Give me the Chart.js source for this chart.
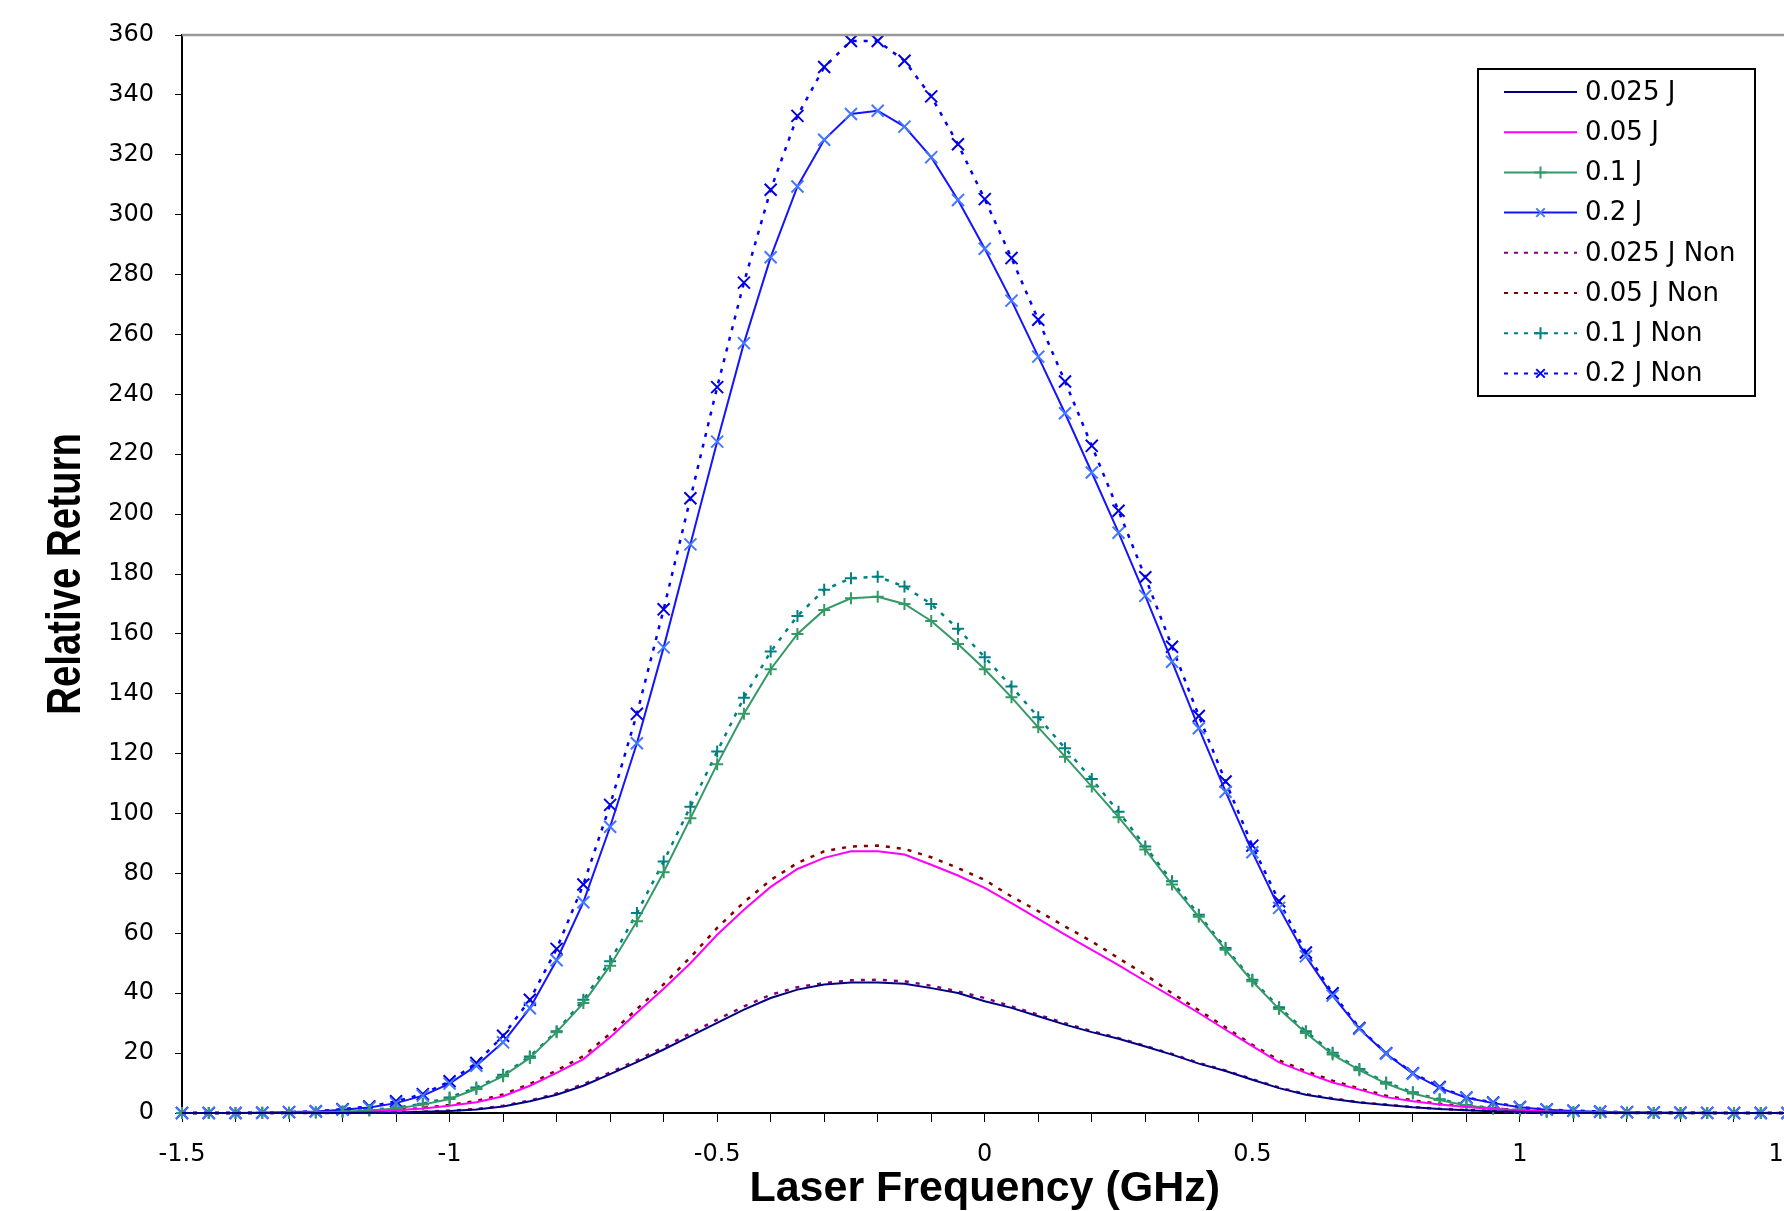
<!DOCTYPE html>
<html>
<head>
<meta charset="utf-8">
<title>Relative Return vs Laser Frequency</title>
<script src="https://cdn.jsdelivr.net/npm/chart.js@4.4.1/dist/chart.umd.min.js"></script>
<style>
  html, body { margin: 0; padding: 0; background: #fff; overflow: hidden; }
</style>
</head>
<body>
<canvas id="myLineChart" width="1798" height="1211"></canvas>
<script>
// Frecuencia del láser (GHz), paso de 0.05
const freq = [-1.5, -1.45, -1.4, -1.35, -1.3, -1.25, -1.2, -1.15, -1.1, -1.05,
    -1.0, -0.95, -0.9, -0.85, -0.8, -0.75, -0.7, -0.65, -0.6, -0.55,
    -0.5, -0.45, -0.4, -0.35, -0.3, -0.25, -0.2, -0.15, -0.1, -0.05,
    0, 0.05, 0.1, 0.15, 0.2, 0.25, 0.3, 0.35, 0.4, 0.45,
    0.5, 0.55, 0.6, 0.65, 0.7, 0.75, 0.8, 0.85, 0.9, 0.95,
    1.0, 1.05, 1.1, 1.15, 1.2, 1.25, 1.3, 1.35, 1.4, 1.45, 1.5];

// Retorno relativo
const e025 = [0, 0, 0, 0, 0, 0, 0, 0.1, 0.2, 0.4,
    0.7, 1.2, 2.2, 3.9, 6.1, 9.1, 13, 17, 21.2, 25.7,
    30.1, 34.5, 38.4, 41.2, 42.9, 43.6, 43.6, 43.2, 41.7, 40.1,
    37.3, 35.1, 32.3, 29.5, 27, 24.8, 22.2, 19.5, 16.5, 14,
    11.1, 8.3, 6.1, 4.7, 3.5, 2.7, 1.9, 1.3, 0.9, 0.6,
    0.4, 0.2, 0.1, 0, 0, 0, 0, 0, 0, 0, 0];
const e05 = [0, 0, 0, 0, 0.05, 0.1, 0.2, 0.4, 0.9, 1.5,
    2.4, 3.6, 5.6, 9.1, 13.4, 18, 25.3, 33.5, 41.5, 50,
    59.5, 67.9, 75.5, 81.5, 85.2, 87.4, 87.4, 86.3, 82.9, 79.3,
    75.2, 70.1, 64.8, 59.6, 54.5, 49.4, 44, 38.8, 33.4, 27.8,
    22.3, 16.9, 13.4, 10.2, 7.8, 5.3, 3.9, 2.8, 2, 1.3,
    0.9, 0.5, 0.3, 0.15, 0.1, 0, 0, 0, 0, 0, 0];
const e1 = [0, 0, 0, 0.05, 0.1, 0.2, 0.4, 0.8, 1.5, 2.8,
    4.7, 8, 12.3, 18.4, 27, 36.7, 49.2, 64, 80.4, 98.4,
    116.5, 133.3, 148.2, 160, 168, 171.9, 172.4, 170, 164.3, 156.6,
    148.2, 138.8, 128.8, 119, 109, 98.8, 88, 76.3, 65.5, 54.5,
    44, 34.7, 26.7, 19.5, 14.3, 9.8, 6.5, 4.3, 2.5, 1.4,
    0.8, 0.4, 0.2, 0.1, 0.05, 0, 0, 0, 0, 0, 0];
const e2 = [0, 0, 0, 0.1, 0.3, 0.5, 1.1, 1.8, 3.3, 5.8,
    9.8, 15.8, 23.6, 35, 51, 70.4, 95.6, 123.5, 155.5, 189.9,
    224.2, 257.1, 285.8, 309.4, 325, 333.6, 334.7, 329.4, 319.2, 304.9,
    288.6, 271.3, 252.6, 233.7, 213.9, 193.8, 172.7, 150.7, 128.5, 107.3,
    87.1, 68.5, 52.3, 39.2, 28.1, 19.8, 13.1, 8.4, 5.1, 3.3,
    1.9, 1.1, 0.7, 0.4, 0.25, 0.15, 0.1, 0.05, 0, 0, 0];
const e025Non = [0, 0, 0, 0, 0, 0, 0, 0.1, 0.2, 0.4,
    0.8, 1.3, 2.4, 4.2, 6.5, 9.6, 13.5, 17.6, 22, 26.6,
    31.2, 35.6, 39.5, 42, 43.4, 44.3, 44.5, 44, 42.5, 40.6,
    38.4, 35.6, 32.8, 30, 27.3, 25, 22.4, 19.7, 16.7, 14.2,
    11.3, 8.5, 6.3, 4.9, 3.6, 2.8, 2, 1.4, 1, 0.7,
    0.4, 0.2, 0.1, 0, 0, 0, 0, 0, 0, 0, 0];
const e05Non = [0, 0, 0, 0, 0.05, 0.1, 0.25, 0.5, 1, 1.7,
    2.7, 4, 6.2, 9.7, 14.2, 19, 26.5, 34.7, 43, 52,
    61.8, 70.4, 77.8, 83.5, 87.4, 89, 89.3, 88.2, 85.4, 81.8,
    77.8, 72.3, 67.4, 62.3, 57.3, 51.7, 46.2, 40, 34.3, 28.6,
    22.8, 17.6, 14, 10.8, 8.2, 5.8, 4.2, 3.1, 2.2, 1.5,
    1, 0.6, 0.3, 0.2, 0.1, 0, 0, 0, 0, 0, 0];
const e1Non = [0, 0, 0, 0.05, 0.1, 0.25, 0.5, 1, 1.8, 3.1,
    5.2, 8.5, 12.8, 18.9, 27.3, 37.8, 50.7, 66.8, 84, 102.3,
    120.7, 138.7, 154.1, 166, 174.7, 178.6, 179.1, 175.8, 170, 161.7,
    152.2, 142.4, 132.2, 121.8, 111.5, 100.6, 89, 77.4, 66.2, 55.1,
    44.5, 35.3, 27.3, 20.1, 14.7, 10.2, 6.9, 4.6, 2.7, 1.6,
    0.9, 0.5, 0.25, 0.1, 0.05, 0, 0, 0, 0, 0, 0];
const e2Non = [0, 0, 0, 0.1, 0.3, 0.6, 1.3, 2.2, 3.9, 6.3,
    10.6, 16.7, 25.8, 37.8, 54.8, 76.3, 102.9, 133.3, 168.2, 205.3,
    242.4, 277.3, 308.3, 333, 349.3, 358, 358, 351.4, 339.5, 323.5,
    305.2, 285.5, 264.9, 244.3, 222.8, 201.1, 178.9, 155.7, 132.6, 110.7,
    89.3, 70.7, 53.6, 40, 28.4, 20, 13.3, 8.7, 5.2, 3.5,
    2, 1.2, 0.8, 0.5, 0.3, 0.2, 0.1, 0.05, 0, 0, 0];

const seriesNames = ['0.025 J', '0.05 J', '0.1 J', '0.2 J',
    '0.025 J Non', '0.05 J Non', '0.1 J Non', '0.2 J Non'];

const yTicks = { min: 0, max: 360, step: 20 };
const xTicks = { min: -1.5, max: 1.5, step: 0.1, labelEvery: 0.5 };

const FONT = '"Liberation Sans", Arial, sans-serif';
const TICK_FONT = '"DejaVu Sans", sans-serif';

function pts(vals) {
    return freq.map((f, i) => ({ x: f, y: vals[i] }));
}

// Marcadores para la leyenda (+ y x)
function drawMarker(ctx, style, x, y, r, color) {
    ctx.save();
    ctx.strokeStyle = color;
    ctx.lineWidth = 2;
    ctx.beginPath();
    if (style === 'cross') {
        ctx.moveTo(x - r, y); ctx.lineTo(x + r, y);
        ctx.moveTo(x, y - r); ctx.lineTo(x, y + r);
    } else {
        const d = r * Math.SQRT1_2;
        ctx.moveTo(x - d, y - d); ctx.lineTo(x + d, y + d);
        ctx.moveTo(x - d, y + d); ctx.lineTo(x + d, y - d);
    }
    ctx.stroke();
    ctx.restore();
}

const boxLegend = {
    id: 'boxLegend',
    afterDraw(chart, args, o) {
        const ctx = chart.ctx;
        const ca = chart.chartArea;
        ctx.save();
        // borde superior gris del área
        ctx.strokeStyle = '#999999';
        ctx.lineWidth = 2.5;
        ctx.beginPath();
        ctx.moveTo(ca.left, ca.top);
        ctx.lineTo(ca.right, ca.top);
        ctx.stroke();

        ctx.fillStyle = '#fff';
        ctx.fillRect(o.left, o.top, o.width, o.height);
        ctx.strokeStyle = '#000';
        ctx.lineWidth = 2;
        ctx.strokeRect(o.left, o.top, o.width, o.height);
        chart.data.datasets.forEach((ds, i) => {
            const y = o.top + o.firstRow + i * o.rowGap;
            const x0 = o.left + o.lineStart;
            const x1 = x0 + o.lineLen;
            ctx.strokeStyle = ds.borderColor;
            ctx.lineWidth = 2;
            ctx.setLineDash(ds.borderDash ? [4, 6] : []);
            ctx.beginPath();
            ctx.moveTo(x0, y);
            ctx.lineTo(x1, y);
            ctx.stroke();
            ctx.setLineDash([]);
            if (ds.pointRadius > 0) {
                drawMarker(ctx, ds.pointStyle, (x0 + x1) / 2, y, o.markerSize, ds.pointBorderColor);
            }
            ctx.fillStyle = '#000';
            ctx.font = o.size + 'px ' + TICK_FONT;
            ctx.textAlign = 'left';
            ctx.textBaseline = 'middle';
            ctx.fillText(ds.label, x1 + o.textGap, y + 1);
        });
        ctx.restore();
    }
};

// Título del eje Y, algo comprimido como en el original
const yTitle = {
    id: 'yTitle',
    afterDraw(chart, args, o) {
        const ctx = chart.ctx;
        const cy = (chart.chartArea.top + chart.chartArea.bottom) / 2;
        ctx.save();
        ctx.translate(o.x, cy);
        ctx.rotate(-Math.PI / 2);
        ctx.scale(o.squeeze, 1);
        ctx.font = 'bold ' + o.size + 'px ' + FONT;
        ctx.fillStyle = '#000';
        ctx.textAlign = 'center';
        ctx.textBaseline = 'alphabetic';
        ctx.fillText(o.text, 0, 0);
        ctx.restore();
    }
};

const solid = { borderWidth: 2, pointRadius: 0, tension: 0, clip: false };
const dotted = { borderWidth: 2.5, borderDash: [4, 7], pointRadius: 0, tension: 0, clip: false };

const datasets = [
    { ...solid, label: seriesNames[0], data: pts(e025), borderColor: '#000080' },
    { ...solid, label: seriesNames[1], data: pts(e05), borderColor: '#FF00FF' },
    { ...solid, label: seriesNames[2], data: pts(e1), borderColor: '#339966',
        pointStyle: 'cross', pointRadius: 6, pointBorderWidth: 2, pointBorderColor: '#339966' },
    { ...solid, label: seriesNames[3], data: pts(e2), borderColor: '#1414FF',
        pointStyle: 'crossRot', pointRadius: 8.5, pointBorderWidth: 2, pointBorderColor: '#4477FF' },
    { ...dotted, label: seriesNames[4], data: pts(e025Non), borderColor: '#800080' },
    { ...dotted, label: seriesNames[5], data: pts(e05Non), borderColor: '#800000' },
    { ...dotted, label: seriesNames[6], data: pts(e1Non), borderColor: '#008080',
        pointStyle: 'cross', pointRadius: 6, pointBorderWidth: 2, pointBorderColor: '#008080' },
    { ...dotted, label: seriesNames[7], data: pts(e2Non), borderColor: '#0000FF',
        pointStyle: 'crossRot', pointRadius: 8.5, pointBorderWidth: 2, pointBorderColor: '#0000E6' }
];

const config = {
    type: 'line',
    data: { datasets: datasets },
    plugins: [boxLegend, yTitle],
    options: {
        responsive: false,
        animation: false,
        devicePixelRatio: 1,
        layout: { padding: { top: 35, left: 0, right: 0, bottom: 0 } },
        plugins: {
            legend: { display: false },
            tooltip: { enabled: false },
            boxLegend: { left: 1478, top: 69, width: 277, height: 327, firstRow: 23, rowGap: 40.2,
                lineStart: 26, lineLen: 73, textGap: 8, size: 26, markerSize: 6 },
            yTitle: { text: 'Relative Return', x: 80, size: 48, squeeze: 0.8 }
        },
        scales: {
            x: {
                type: 'linear',
                min: xTicks.min,
                max: xTicks.max,
                border: { color: '#000', width: 2 },
                grid: { drawOnChartArea: false, drawTicks: true, tickLength: 9, color: '#000', lineWidth: 1 },
                ticks: {
                    stepSize: xTicks.step,
                    autoSkip: false,
                    maxRotation: 0,
                    padding: 18,
                    color: '#000',
                    font: { family: TICK_FONT, size: 24 },
                    callback: function (v) {
                        const h = v / xTicks.labelEvery;
                        if (Math.abs(h - Math.round(h)) > 1e-6) return '';
                        return String(Math.round(h) * xTicks.labelEvery);
                    }
                },
                title: {
                    display: true,
                    text: 'Laser Frequency (GHz)',
                    color: '#000',
                    font: { family: FONT, size: 43, weight: 'bold', lineHeight: 1 },
                    padding: { top: 0, bottom: 0 }
                },
                afterFit: function (s) {
                    s.height = 98;
                    s.paddingLeft = 0;
                    s.paddingRight = 0;
                }
            },
            y: {
                min: yTicks.min,
                max: yTicks.max,
                border: { color: '#000', width: 2 },
                grid: { drawOnChartArea: false, drawTicks: true, tickLength: 7, color: '#000', lineWidth: 1 },
                ticks: {
                    stepSize: yTicks.step,
                    padding: 21,
                    color: '#000',
                    font: { family: TICK_FONT, size: 24 }
                },
                afterFit: function (s) {
                    s.width = 182;
                    s.paddingTop = 0;
                    s.paddingBottom = 0;
                }
            }
        }
    }
};

const lineCtx = document.getElementById('myLineChart').getContext('2d');
new Chart(lineCtx, config);
</script>
</body>
</html>
